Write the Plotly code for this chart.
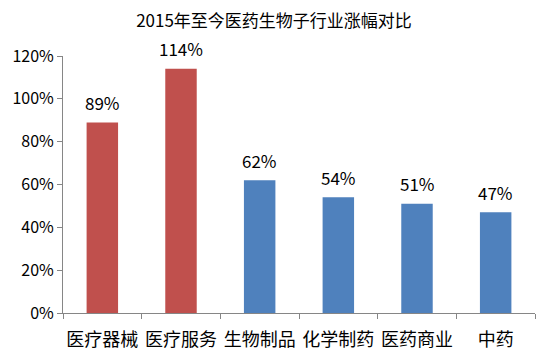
import plotly.graph_objects as go

categories = ["医疗器械", "医疗服务", "生物制品", "化学制药", "医药商业", "中药"]
values = [0.89, 1.14, 0.62, 0.54, 0.51, 0.47]
labels = ["89%", "114%", "62%", "54%", "51%", "47%"]
colors = ["#C0504D", "#C0504D", "#4F81BD", "#4F81BD", "#4F81BD", "#4F81BD"]
y_ticks = [0, 0.2, 0.4, 0.6, 0.8, 1.0, 1.2]
y_tick_labels = ["0%", "20%", "40%", "60%", "80%", "100%", "120%"]

font = "Noto Sans CJK SC, Microsoft YaHei, sans-serif"

fig = go.Figure(go.Bar(
    x=categories, y=values, marker_color=colors, marker_line_width=0,
    hoverinfo="x+y",
))

for c, v, t in zip(categories, values, labels):
    fig.add_annotation(x=c, y=v, text=t, showarrow=False, yanchor="middle",
                       yshift=20, font=dict(size=17, color="#000000", family=font))

fig.update_layout(
    width=548, height=359,
    margin=dict(l=63, r=13, t=56, b=46),
    paper_bgcolor="white", plot_bgcolor="white",
    bargap=0.6, showlegend=False,
    title=dict(text="2015年至今医药生物子行业涨幅对比", x=0.5, xanchor="center",
               y=0.94, yanchor="middle",
               font=dict(size=17, color="#000000", family=font)),
)
fig.update_xaxes(
    showline=True, linecolor="#868686", linewidth=1, automargin=False,
    ticks="outside", tickson="boundaries", ticklen=5, tickcolor="#868686",
    tickangle=0, ticklabelstandoff=10,
    tickfont=dict(size=18, color="#000000", family=font), showgrid=False,
)
fig.update_yaxes(
    range=[0, 1.2], tickvals=y_ticks, ticktext=y_tick_labels, automargin=False,
    showline=True, linecolor="#868686", linewidth=1,
    ticks="outside", ticklen=5, tickcolor="#868686",
    tickfont=dict(size=16, color="#000000", family=font),
    showgrid=False, zeroline=False,
)

fig.write_html("out.html", post_script="document.body.style.margin='0';",
               config={"displayModeBar": False})
